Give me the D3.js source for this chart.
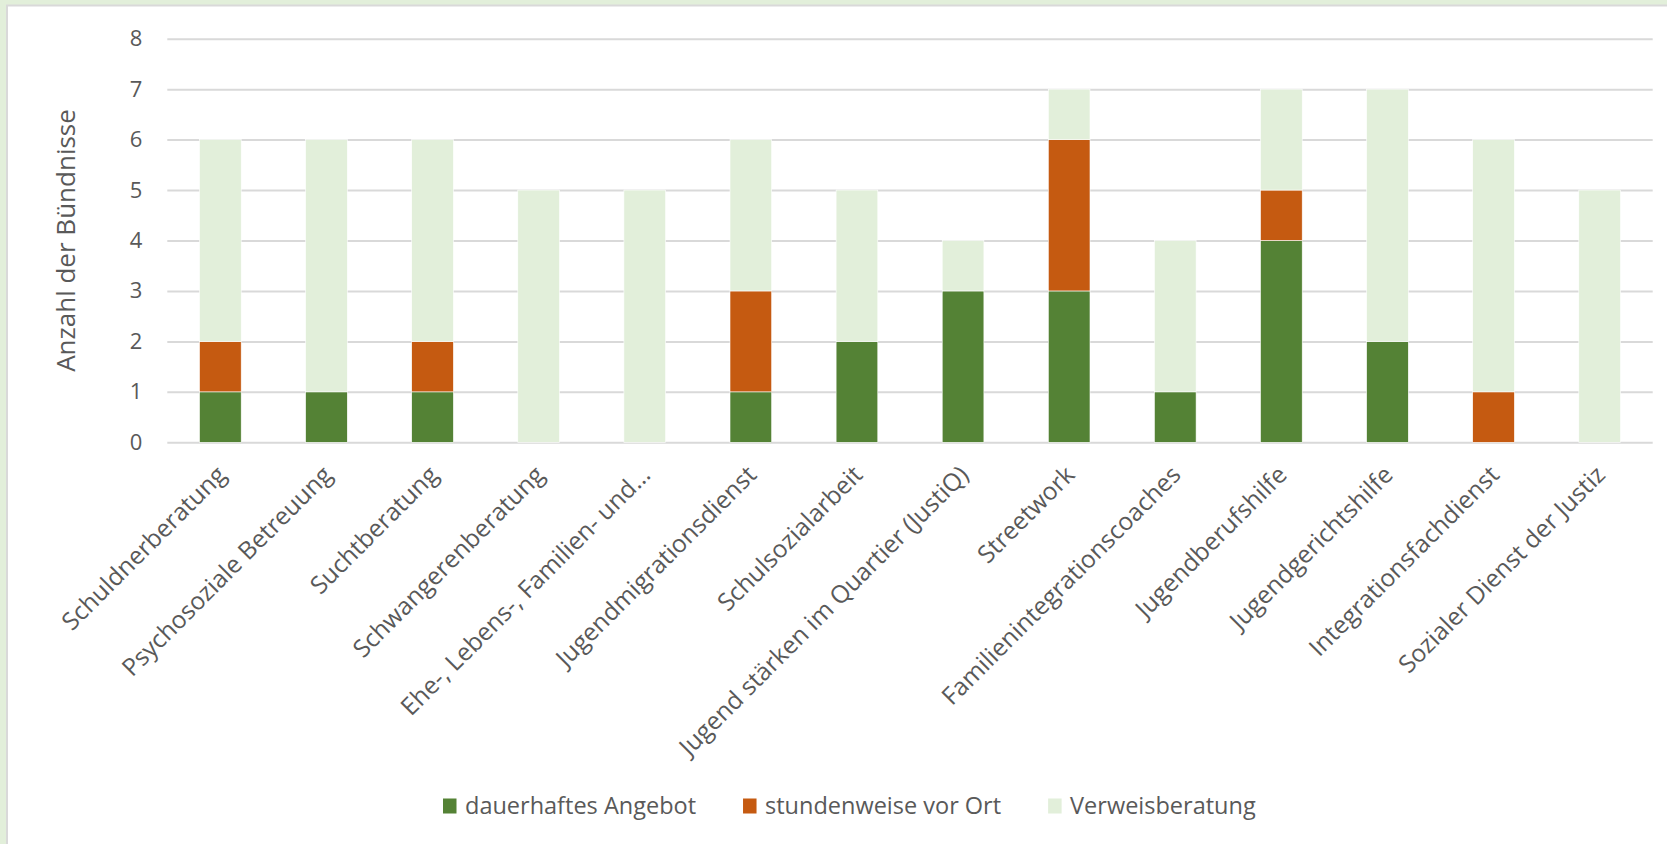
<!DOCTYPE html>
<html lang="de">
<head>
<meta charset="utf-8">
<script src="https://cdn.jsdelivr.net/npm/d3@7"></script>
<style>
  html, body { margin: 0; padding: 0; background: #ffffff; }
  svg { display: block; }
  text { font-family: "Open Sans", "Noto Sans", sans-serif; fill: #595959; }
</style>
</head>
<body>
<svg id="chart" width="1667" height="844"></svg>
<script>
// Angebote je Kategorie
const categories = [
  "Schuldnerberatung",
  "Psychosoziale Betreuung",
  "Suchtberatung",
  "Schwangerenberatung",
  "Ehe-, Lebens-, Familien- und...",
  "Jugendmigrationsdienst",
  "Schulsozialarbeit",
  "Jugend stärken im Quartier (JustiQ)",
  "Streetwork",
  "Familienintegrationscoaches",
  "Jugendberufshilfe",
  "Jugendgerichtshilfe",
  "Integrationsfachdienst",
  "Sozialer Dienst der Justiz"
];
const dauerhaftesAngebot   = [1, 1, 1, 0, 0, 1, 2, 3, 3, 1, 4, 2, 0, 0];
const stundenweiseVorOrt   = [1, 0, 1, 0, 0, 2, 0, 0, 3, 0, 1, 0, 1, 0];
const verweisberatung      = [4, 5, 4, 5, 5, 3, 3, 1, 1, 3, 2, 5, 5, 5];
const seriesNames = ["dauerhaftes Angebot", "stundenweise vor Ort", "Verweisberatung"];
const seriesColors = ["#548235", "#C55A11", "#E2EFDA"];
const yTicks = [0, 1, 2, 3, 4, 5, 6, 7, 8];
const yTitle = "Anzahl der Bündnisse";

const svg = d3.select("#chart");

// Rahmen: hellgrüner Rand oben und links, graue Linie
svg.append("rect").attr("x", 0).attr("y", 0).attr("width", 1667).attr("height", 844)
  .attr("fill", "#E2EFDA");
svg.append("rect").attr("x", 7).attr("y", 5.5).attr("width", 1700).attr("height", 900)
  .attr("fill", "#ffffff").attr("stroke", "#D9D9D9").attr("stroke-width", 2);

const plot = { left: 167.3, right: 1652.7, top: 38.7, bottom: 442.3 };

const x = d3.scaleBand()
  .domain(categories)
  .range([plot.left, plot.right])
  .paddingInner(0.607)
  .paddingOuter(0.3035);

const y = d3.scaleLinear()
  .domain([0, 8])
  .range([plot.bottom, plot.top]);

// Gitternetzlinien und Achsenbeschriftung
const yAxis = d3.axisLeft(y)
  .tickValues(yTicks)
  .tickFormat(d3.format("d"))
  .tickSize(-(plot.right - plot.left))
  .tickPadding(25);

const gy = svg.append("g")
  .attr("transform", `translate(${plot.left},0)`)
  .call(yAxis);
gy.select(".domain").remove();
gy.selectAll(".tick line").attr("stroke", "#D9D9D9").attr("stroke-width", 2);
gy.selectAll(".tick text")
  .style("font-size", "22px")
  .attr("fill", "#595959");

// Gestapelte Balken
const rows = categories.map((c, i) => ({
  category: c,
  [seriesNames[0]]: dauerhaftesAngebot[i],
  [seriesNames[1]]: stundenweiseVorOrt[i],
  [seriesNames[2]]: verweisberatung[i]
}));
const stacked = d3.stack().keys(seriesNames)(rows);

svg.append("g").selectAll("g")
  .data(stacked)
  .join("g")
  .attr("fill", (d, i) => seriesColors[i])
  .selectAll("rect")
  .data(d => d.filter(s => s[1] > s[0]))
  .join("rect")
  .attr("x", d => x(d.data.category))
  .attr("width", x.bandwidth())
  .attr("y", d => y(d[1]))
  .attr("height", d => y(d[0]) - y(d[1]))
  .attr("stroke", "#ffffff")
  .attr("stroke-width", 0.6);

// Kategorienbeschriftung, 45° gedreht
const gx = svg.append("g");
gx.selectAll("text")
  .data(categories)
  .join("text")
  .attr("transform", d => `translate(${x(d) + x.bandwidth() / 2 + 1},${plot.bottom + 28}) rotate(-45)`)
  .attr("text-anchor", "end")
  .attr("dy", "0.35em")
  .style("font-size", "24.5px")
  .text(d => d);

// Achsentitel
svg.append("text")
  .attr("transform", `translate(66,${(plot.top + plot.bottom) / 2}) rotate(-90)`)
  .attr("text-anchor", "middle")
  .attr("dy", "0.35em")
  .style("font-size", "26px")
  .text(yTitle);

// Legende
const legend = svg.append("g").attr("transform", "translate(443,806)");
let lx = 0;
seriesNames.forEach((name, i) => {
  const item = legend.append("g").attr("transform", `translate(${lx},0)`);
  item.append("rect")
    .attr("x", 0).attr("y", -7.5)
    .attr("width", 13.5).attr("height", 15)
    .attr("fill", seriesColors[i]);
  const t = item.append("text")
    .attr("x", 22)
    .attr("dy", "0.35em")
    .style("font-size", "23.5px")
    .text(name);
  lx += 22 + t.node().getComputedTextLength() + 47;
});
</script>
</body>
</html>
